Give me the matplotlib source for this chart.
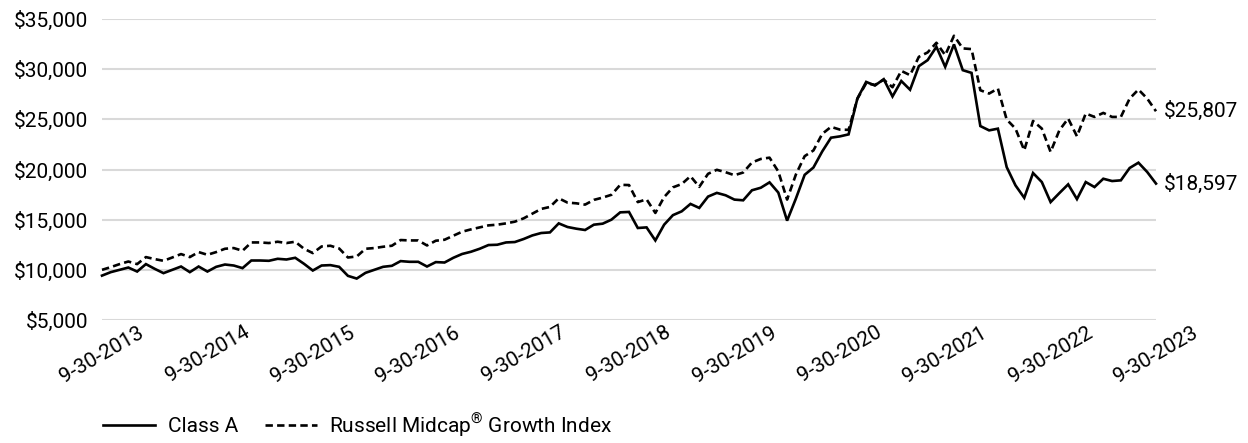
import matplotlib
matplotlib.use("Agg")
import matplotlib.pyplot as plt
from matplotlib.lines import Line2D
import numpy as np

plt.rcParams['font.family'] = ['Roboto', 'DejaVu Sans']
plt.rcParams['mathtext.fontset'] = 'custom'
plt.rcParams['mathtext.rm'] = 'Roboto'

class_a = [9425, 9770, 10000, 10230, 9830, 10570, 10100, 9670, 10000, 10330,
           9770, 10330, 9830, 10300, 10530, 10430, 10170, 10930, 10930, 10900,
           11100, 11030, 11200, 10600, 9930, 10430, 10470, 10300, 9400, 9130,
           9700, 10000, 10300, 10400, 10870, 10800, 10800, 10330, 10770, 10730,
           11200, 11580, 11800, 12100, 12470, 12500, 12730, 12770, 13070, 13430,
           13670, 13730, 14630, 14270, 14100, 13970, 14500, 14600, 15000, 15730,
           15770, 14170, 14230, 12930, 14500, 15450, 15830, 16570, 16170, 17300,
           17670, 17430, 17000, 16930, 17930, 18180, 18720, 17700, 14900, 17100,
           19470, 20200, 21800, 23170, 23300, 23500, 27070, 28730, 28370, 29000,
           27280, 28820, 27950, 30300, 30900, 32230, 30230, 32470, 29900, 29630,
           24330, 23900, 24070, 20240, 18420, 17180, 19650, 18750, 16750, 17650,
           18520, 17050, 18750, 18250, 19080, 18850, 18920, 20150, 20680, 19750,
           18597]

russell = [10000, 10270, 10570, 10830, 10570, 11270, 11070, 10900, 11230, 11570,
           11270, 11770, 11500, 11770, 12100, 12170, 11900, 12730, 12730, 12670,
           12800, 12670, 12800, 12100, 11670, 12330, 12400, 12130, 11230, 11330,
           12100, 12170, 12300, 12400, 12970, 12930, 12930, 12430, 12900, 13000,
           13400, 13800, 14030, 14230, 14430, 14500, 14630, 14800, 15130, 15600,
           16070, 16270, 17130, 16700, 16630, 16500, 16970, 17200, 17480, 18470,
           18450, 16750, 17030, 15670, 17250, 18220, 18550, 19330, 18270, 19570,
           19970, 19730, 19430, 19700, 20700, 21050, 21180, 19800, 17000, 19500,
           21330, 21900, 23550, 24250, 23980, 23950, 27050, 28600, 28430, 28950,
           28200, 29830, 29400, 31230, 31670, 32630, 31400, 33330, 32070, 32000,
           27900, 27570, 28070, 24980, 24080, 21910, 24840, 24080, 21750, 23910,
           25080, 23310, 25580, 25240, 25640, 25240, 25240, 27070, 27970, 27070,
           25807]

tick_labels = ['9-30-2013', '9-30-2014', '9-30-2015', '9-30-2016', '9-30-2017',
               '9-30-2018', '9-30-2019', '9-30-2020', '9-30-2021', '9-30-2022',
               '9-30-2023']
y_ticks = [5000, 10000, 15000, 20000, 25000, 30000, 35000]
series_names = ['Class A', r'Russell Midcap$^{\circledR}$ Growth Index']
end_labels = ['$18,597', '$25,807']

FS = 15
W, H = 1248, 443
fig = plt.figure(figsize=(W / 100, H / 100), dpi=100)
ax = fig.add_axes([102 / W, 1 - 320 / H, (1156 - 102) / W, (320 - 19) / H])

x = np.arange(len(class_a))
ax.plot(x, class_a, color='black', lw=1.9, solid_joinstyle='miter', clip_on=False, zorder=3)
ax.plot(x, russell, color='black', lw=1.9, dashes=(2.8, 1.6), clip_on=False, zorder=3)

ax.set_xlim(0, len(class_a) - 1)
ax.set_ylim(5000, 35000)
ax.set_yticks(y_ticks)
ax.set_yticklabels([f'${v:,.0f}' for v in y_ticks], fontsize=FS)
ax.set_xticks(np.arange(0, len(class_a), 12))
ax.set_xticklabels(tick_labels, rotation=30, ha='center', va='top', fontsize=FS)
ax.tick_params(axis='both', length=0, colors='black')
ax.tick_params(axis='y', pad=10)
ax.tick_params(axis='x', pad=2)
ax.grid(axis='y', color='#d9d9d9', lw=1.5)
ax.set_axisbelow(True)
for s in ax.spines.values():
    s.set_visible(False)

for val, lab in zip([class_a[-1], russell[-1]], end_labels):
    ax.annotate(lab, xy=(x[-1], val), xytext=(6, 0), textcoords='offset points',
                ha='left', va='center', fontsize=FS, annotation_clip=False)

handles = [Line2D([], [], color='black', lw=1.9),
           Line2D([], [], color='black', lw=1.9, dashes=(2.8, 1.6))]
fig.legend(handles, series_names, loc='center left',
           bbox_to_anchor=(103 / W, 1 - 425 / H), ncol=2, frameon=False,
           fontsize=FS, handlelength=2.5, columnspacing=1.3, handletextpad=0.6,
           borderpad=0, borderaxespad=0)

fig.savefig('out.png', dpi=100)
